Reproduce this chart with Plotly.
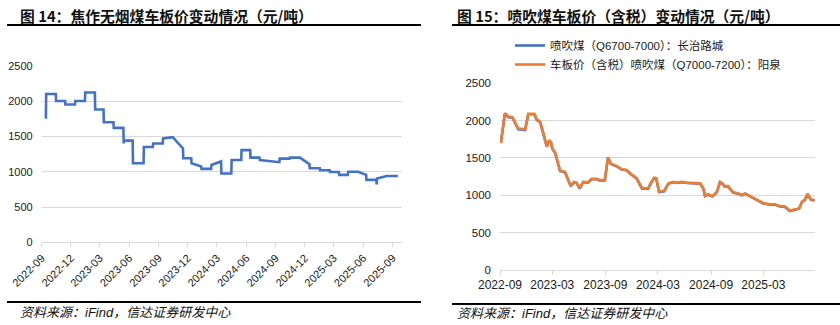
import plotly.graph_objects as go

# ---------------- Data ----------------
# Fig 14: Jiaozuo anthracite price (yuan/t), daily series at change points
left_dates = [
    "2022-09-14", "2022-09-15", "2022-10-15", "2022-10-16", "2022-11-13",
    "2022-11-14", "2022-12-14", "2022-12-15", "2023-01-14", "2023-01-15",
    "2023-02-14", "2023-02-15", "2023-03-13", "2023-03-14", "2023-04-13",
    "2023-04-14", "2023-05-14", "2023-05-15", "2023-05-16", "2023-06-12",
    "2023-06-13", "2023-07-16", "2023-07-17", "2023-08-14", "2023-08-15",
    "2023-09-14", "2023-09-15", "2023-10-15", "2023-11-16", "2023-11-17",
    "2023-12-12", "2023-12-13", "2024-01-12", "2024-01-13", "2024-02-12",
    "2024-02-13", "2024-03-14", "2024-03-15", "2024-04-15", "2024-04-16",
    "2024-05-16", "2024-05-17", "2024-06-13", "2024-06-14", "2024-07-12",
    "2024-07-13", "2024-09-12", "2024-09-13", "2024-10-14", "2024-10-15",
    "2024-11-15", "2024-12-15", "2024-12-16", "2025-01-16", "2025-01-17",
    "2025-02-16", "2025-02-17", "2025-03-17", "2025-03-18", "2025-04-14",
    "2025-04-15", "2025-05-16", "2025-06-10", "2025-06-11", "2025-07-12",
    "2025-07-13", "2025-07-14", "2025-08-13", "2025-09-17",
]
left_values = [
    1750, 2100, 2100, 2000, 2000,
    1950, 1950, 2000, 2000, 2120,
    2120, 1880, 1880, 1700, 1700,
    1620, 1620, 1400, 1440, 1440,
    1120, 1120, 1350, 1350, 1400,
    1400, 1470, 1490, 1330, 1190,
    1190, 1120, 1075, 1040, 1040,
    1095, 1145, 975, 975, 1165,
    1165, 1305, 1305, 1200, 1200,
    1165, 1135, 1185, 1185, 1200,
    1200, 1105, 1050, 1050, 1020,
    1020, 995, 995, 955, 955,
    1000, 1000, 955, 885, 885,
    820, 905, 940, 940,
]

# Fig 15: PCI coal prices (yuan/t)
right_dates = [
    "2022-09-04", "2022-09-18", "2022-09-30", "2022-10-14", "2022-11-03",
    "2022-11-27", "2022-12-08", "2022-12-29", "2023-01-06", "2023-01-18",
    "2023-01-29", "2023-02-10", "2023-02-18", "2023-02-25", "2023-03-01",
    "2023-03-11", "2023-03-28", "2023-04-14", "2023-04-23", "2023-05-04",
    "2023-05-15", "2023-05-24", "2023-06-04", "2023-06-16", "2023-07-03",
    "2023-07-15", "2023-08-01", "2023-08-12", "2023-08-30", "2023-09-10",
    "2023-09-20", "2023-10-09", "2023-10-27", "2023-11-13", "2023-11-30",
    "2023-12-18", "2024-01-06", "2024-01-27", "2024-02-07", "2024-02-17",
    "2024-02-24", "2024-03-05", "2024-03-23", "2024-04-06", "2024-04-23",
    "2024-05-05", "2024-05-23", "2024-06-10", "2024-07-25", "2024-08-05",
    "2024-08-11", "2024-08-22", "2024-09-01", "2024-09-06", "2024-09-15",
    "2024-09-21", "2024-10-02", "2024-10-10", "2024-10-17", "2024-10-29",
    "2024-11-17", "2024-12-05", "2024-12-16", "2024-12-28", "2025-01-14",
    "2025-02-06", "2025-03-01", "2025-03-24", "2025-04-10", "2025-04-27",
    "2025-05-15", "2025-06-01", "2025-06-12", "2025-06-24", "2025-07-03",
    "2025-07-13", "2025-07-23", "2025-08-01", "2025-08-13", "2025-08-26",
]
changzhi_values = [  # 喷吹煤（Q6700-7000）：长治路城
    1700, 2095, 2045, 2040, 1885, 1875, 2085, 2085, 2010, 1980,
    1825, 1650, 1735, 1700, 1625, 1565, 1325, 1310, 1225, 1120,
    1175, 1165, 1090, 1175, 1170, 1215, 1215, 1200, 1200, 1505,
    1420, 1390, 1345, 1335, 1275, 1225, 1090, 1090, 1170, 1230,
    1225, 1045, 1055, 1155, 1175, 1165, 1175, 1165, 1155, 1090,
    990, 1010, 990, 985, 1015, 1045, 1175, 1155, 1120, 1120,
    1035, 1020, 1000, 1020, 985, 940, 890, 875, 875, 850,
    845, 790, 800, 820, 820, 910, 940, 1015, 940, 930,
]
yangquan_values = [  # 车板价（含税）喷吹煤（Q7000-7200）：阳泉
    1700, 2100, 2055, 2045, 1895, 1885, 2090, 2090, 2020, 1985,
    1830, 1650, 1740, 1705, 1630, 1570, 1330, 1315, 1230, 1125,
    1180, 1170, 1095, 1180, 1175, 1220, 1220, 1205, 1205, 1510,
    1425, 1395, 1350, 1340, 1280, 1230, 1095, 1095, 1175, 1235,
    1230, 1050, 1060, 1160, 1180, 1170, 1180, 1170, 1160, 1095,
    995, 1015, 995, 990, 1020, 1050, 1180, 1160, 1125, 1125,
    1040, 1025, 1005, 1025, 990, 945, 895, 880, 880, 855,
    850, 795, 805, 825, 825, 915, 945, 1020, 945, 935,
]

left_title = "图 14：焦作无烟煤车板价变动情况（元/吨）"
right_title = "图 15：喷吹煤车板价（含税）变动情况（元/吨）"
series_names = ["喷吹煤（Q6700-7000）：长治路城", "车板价（含税）喷吹煤（Q7000-7200）：阳泉"]
source_text = "资料来源：iFind，信达证券研发中心"
y_ticks = [0, 500, 1000, 1500, 2000, 2500]

# ---------------- Figure ----------------
W, H = 840, 325
BLUE, ORANGE = "#4472C4", "#ED7D31"
GRID = "#D9D9D9"
FONT = "Liberation Sans, Arial, Noto Sans CJK SC"
CJK = "Noto Sans CJK SC"
TXT = "#1a1a1a"

def px(x):
    return x / W

def py(y):
    return 1 - y / H

fig = go.Figure()
fig.add_trace(go.Scatter(x=left_dates, y=left_values, mode="lines",
                         line=dict(color=BLUE, width=2.6), showlegend=False,
                         xaxis="x", yaxis="y"))
fig.add_trace(go.Scatter(x=right_dates, y=changzhi_values, mode="lines",
                         name=series_names[0], line=dict(color=BLUE, width=2.6),
                         xaxis="x2", yaxis="y2"))
fig.add_trace(go.Scatter(x=right_dates, y=yangquan_values, mode="lines",
                         name=series_names[1], line=dict(color=ORANGE, width=2.6),
                         xaxis="x2", yaxis="y2"))

axis_common = dict(showgrid=False, showline=True, linecolor=GRID, linewidth=1,
                   ticks="outside", ticklen=4, tickcolor=GRID, zeroline=False,
                   type="date", tickformat="%Y-%m", automargin=False)
yaxis_common = dict(range=[0, 2500], tickvals=y_ticks, showgrid=True, gridcolor=GRID,
                    gridwidth=1, zeroline=False, showline=False, ticks="",
                    ticklabelstandoff=8, automargin=False)

fig.update_layout(
    width=W, height=H, margin=dict(l=0, r=0, t=0, b=0, autoexpand=False),
    paper_bgcolor="white", plot_bgcolor="white",
    font=dict(family=FONT, color=TXT),
    xaxis=dict(domain=[px(41.7), px(402)], range=["2022-09-01", "2025-09-30"],
               dtick="M3", tick0="2022-09-01", tickangle=-45,
               tickfont=dict(size=11, color=TXT), anchor="y", **axis_common),
    yaxis=dict(domain=[py(242.4), py(65.7)], anchor="x",
               tickfont=dict(size=11, color=TXT), **yaxis_common),
    xaxis2=dict(domain=[px(500), px(815)], range=["2022-09-01", "2025-08-27"],
                dtick="M6", tick0="2022-09-01", tickangle=0,
                tickfont=dict(size=12, color=TXT), anchor="y2", **axis_common),
    yaxis2=dict(domain=[py(270), py(83.3)], anchor="x2",
                tickfont=dict(size=11.5, color=TXT), **yaxis_common),
    legend=dict(x=px(510), y=py(31), xanchor="left", yanchor="top",
                bgcolor="rgba(0,0,0,0)", font=dict(size=11.5, family=FONT, color=TXT),
                tracegroupgap=0, itemwidth=30),
)

# Titles
for x0, t in [(18, left_title), (455, right_title)]:
    fig.add_annotation(x=px(x0), y=py(15), xref="paper", yref="paper",
                       xanchor="left", yanchor="middle", showarrow=False,
                       text="<b>" + t + "</b>",
                       font=dict(family=CJK, size=14.8, color="#111"))
# Sources
for x0, y0 in [(18, 312), (455, 313)]:
    fig.add_annotation(x=px(x0), y=py(y0), xref="paper", yref="paper",
                       xanchor="left", yanchor="middle", showarrow=False,
                       text="<i>" + source_text + "</i>",
                       font=dict(family=FONT, size=13, color="#111"))

# Separator rules
for x0, x1, y0 in [(7, 421, 25), (452, 840, 25), (7, 421, 302), (452, 840, 304)]:
    fig.add_shape(type="line", xref="paper", yref="paper",
                  x0=px(x0), x1=px(x1), y0=py(y0), y1=py(y0),
                  line=dict(color="black", width=2))

fig.write_html("out.html")
